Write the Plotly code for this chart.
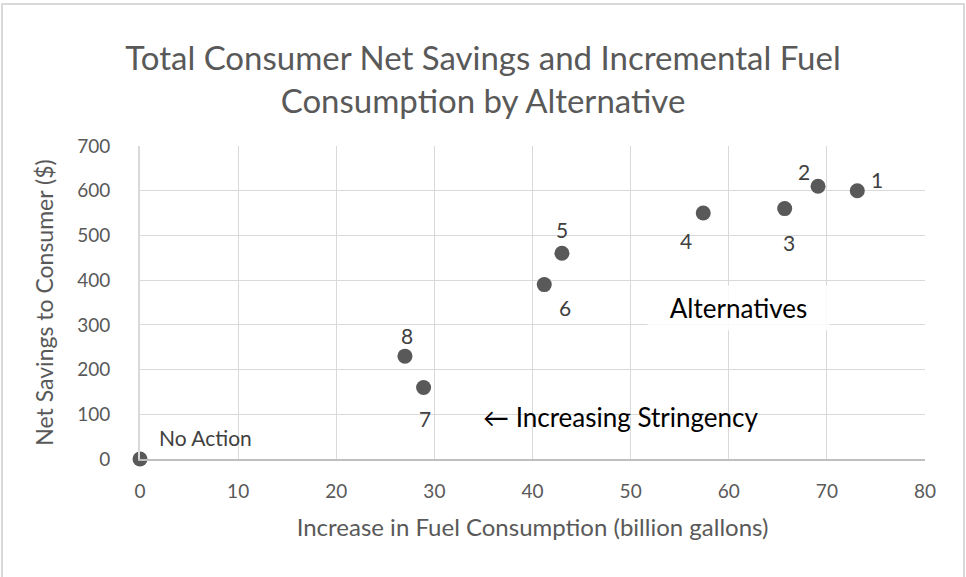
import plotly.graph_objects as go

# Data
labels = ["No Action", "1", "2", "3", "4", "5", "6", "7", "8"]
fuel_increase = [0, 73.1, 69.1, 65.7, 57.4, 43.0, 41.2, 28.9, 27.0]
net_savings = [0, 600, 610, 560, 550, 460, 390, 160, 230]
x_ticks = [0, 10, 20, 30, 40, 50, 60, 70, 80]
y_ticks = [0, 100, 200, 300, 400, 500, 600, 700]

FONT = "Lato"
GRAY = "#595959"

fig = go.Figure()
fig.add_trace(go.Scatter(
    x=fuel_increase, y=net_savings, mode="markers",
    marker=dict(size=15, color="#595959"),
    hoverinfo="x+y", showlegend=False, cliponaxis=False,
))

# point label offsets (pixels): dx, dy (up positive), anchor
offsets = {
    "No Action": (17, 22, "left"),
    "1": (20, 11, "center"),
    "2": (-14, 15, "center"),
    "3": (4, -34, "center"),
    "4": (-17, -27, "center"),
    "5": (0, 24, "center"),
    "6": (21, -23, "center"),
    "7": (1, -31, "center"),
    "8": (2, 21, "center"),
}
for lab, xv, yv in zip(labels, fuel_increase, net_savings):
    dx, dy, al = offsets[lab]
    fig.add_annotation(x=xv, y=yv, text=lab, showarrow=False,
                       xshift=dx, yshift=dy, xanchor=al,
                       font=dict(family=FONT, size=21, color="#404040"))

fig.add_annotation(x=61.0, y=337, text="Alternatives", showarrow=False,
                   font=dict(family=FONT, size=26, color="#000000"),
                   bgcolor="rgba(255,255,255,0.85)", width=181, height=44,
                   borderpad=0)
fig.add_annotation(x=49.0, y=93, text="\u2190 Increasing Stringency", showarrow=False,
                   font=dict(family=FONT, size=26, color="#000000"))

fig.update_layout(
    width=966, height=577,
    margin=dict(l=140, r=41, t=146, b=118),
    paper_bgcolor="white", plot_bgcolor="white",
    title=dict(text="Total Consumer Net Savings and Incremental Fuel<br>Consumption by Alternative",
               x=0.5, xanchor="center", xref="container", yref="container",
               y=1 - 70 / 577, yanchor="middle",
               font=dict(family=FONT, size=33, color=GRAY)),
    xaxis=dict(range=[0, 80], tickvals=x_ticks, showgrid=True, gridcolor="#d9d9d9",
               gridwidth=1, zeroline=False, showline=True, linecolor="#bfbfbf", linewidth=2,
               ticks="", tickfont=dict(family=FONT, size=19, color=GRAY), ticklabelstandoff=14,
               title=dict(text="Increase in Fuel Consumption (billion gallons)",
                          font=dict(family=FONT, size=24, color=GRAY), standoff=18)),
    yaxis=dict(range=[0, 700], tickvals=y_ticks, showgrid=True, gridcolor="#d9d9d9",
               gridwidth=1, zeroline=False, showline=True, linecolor="#d9d9d9", linewidth=2,
               ticks="", tickfont=dict(family=FONT, size=19, color=GRAY), ticklabelstandoff=24,
               title=dict(text="Net Savings to Consumer ($)",
                          font=dict(family=FONT, size=23, color=GRAY), standoff=17)),
)

# outer chart border
fig.add_shape(type="rect", xref="paper", yref="paper",
              x0=(2 - 140) / 785, x1=(964 - 140) / 785,
              y0=(459 - 600) / 313, y1=(459 - 4) / 313,
              line=dict(color="#d9d9d9", width=2), layer="below")

fig.write_html("out.html", config={"displayModeBar": False},
               post_script="document.body.style.margin='0';")
